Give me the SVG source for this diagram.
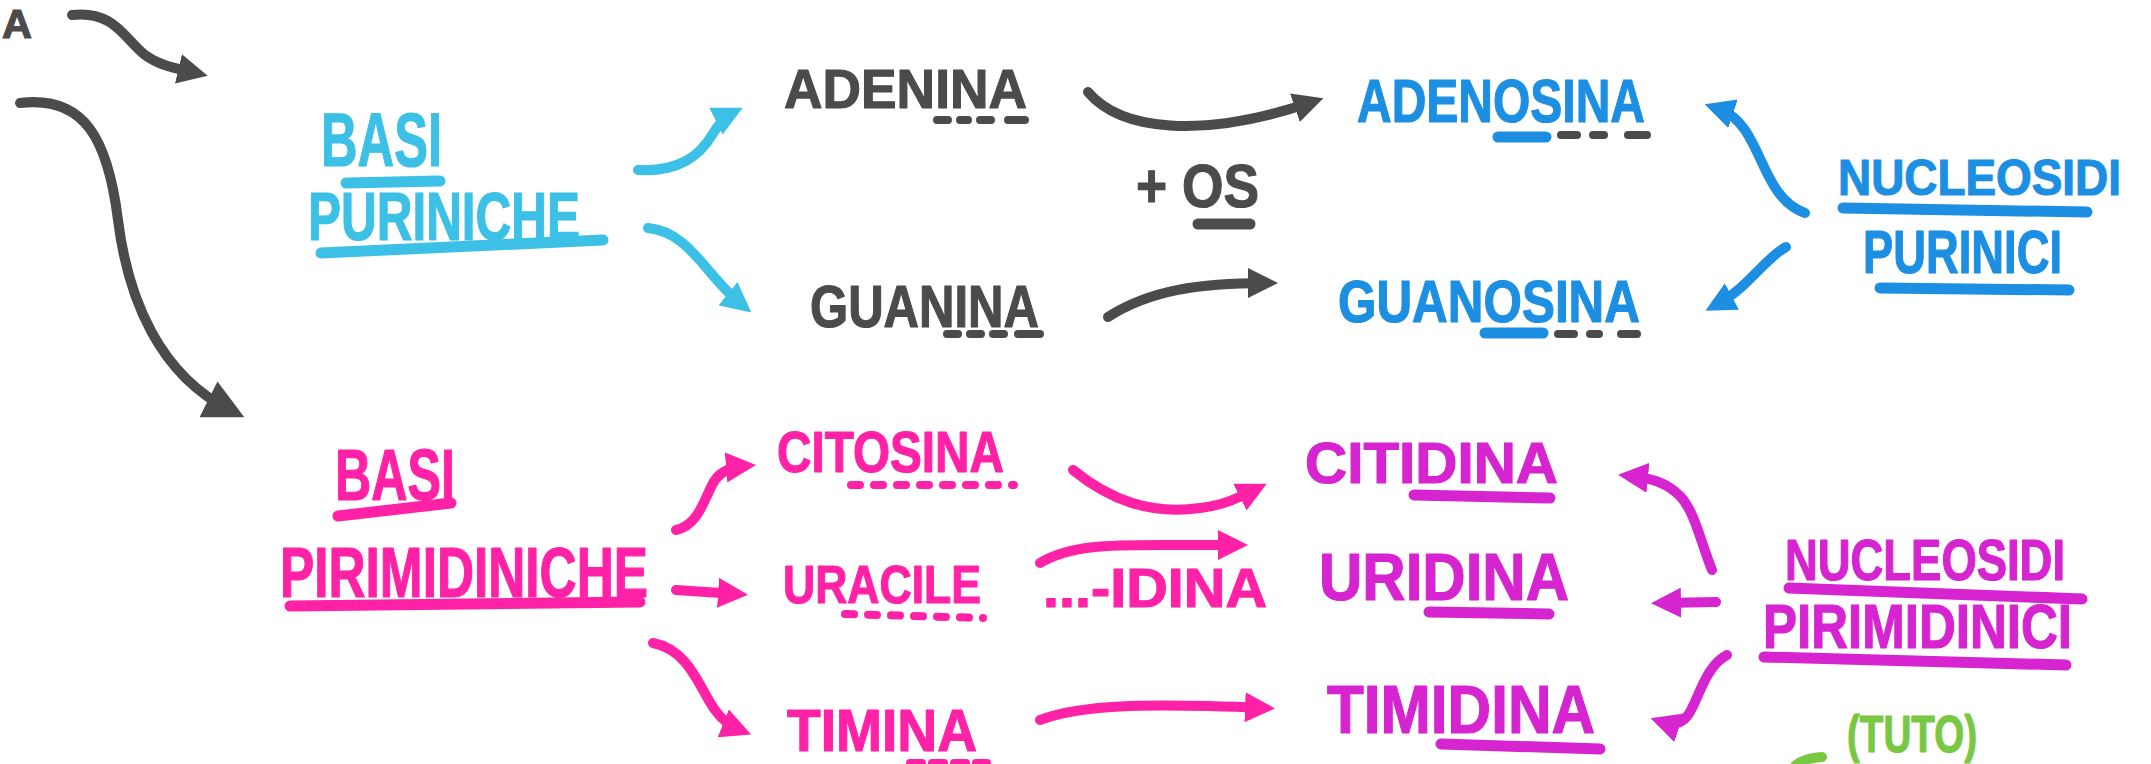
<svg xmlns="http://www.w3.org/2000/svg" width="2151" height="764" viewBox="0 0 2151 764">
  <defs>
    <style>
      .t { font-family: "Liberation Sans", "DejaVu Sans", sans-serif; font-weight: 700; stroke-width: 1.2; stroke-linejoin: round; }
      .gray { fill: #4b4b4b; stroke: #4b4b4b; }
      .cyan { fill: #3cc0e6; stroke: #3cc0e6; }
      .blue { fill: #1d8fe2; stroke: #1d8fe2; }
      .pink { fill: #ff22a6; stroke: #ff22a6; }
      .mag { fill: #d624d0; stroke: #d624d0; }
      .green { fill: #79c843; stroke: #79c843; }
      .ul { fill: none; stroke-linecap: round; stroke-width: 11; }
      .dash { fill: none; stroke-linecap: round; stroke-width: 8; }
      .arr { fill: none; stroke-linecap: round; stroke-linejoin: round; stroke-width: 10; }
    </style>
    <marker id="m-gray" viewBox="0 0 10 10" refX="6" refY="5" markerWidth="3" markerHeight="3" orient="auto" markerUnits="strokeWidth">
      <path d="M0,0 L10,5 L0,10 z" fill="#4b4b4b"/>
    </marker>
    <marker id="m-gray-thin" viewBox="0 0 10 10" refX="6" refY="5" markerWidth="4" markerHeight="4" orient="auto" markerUnits="strokeWidth">
      <path d="M0,0 L10,5 L0,10 z" fill="#4b4b4b"/>
    </marker>
    <marker id="m-cyan" viewBox="0 0 10 10" refX="6" refY="5" markerWidth="3" markerHeight="3" orient="auto" markerUnits="strokeWidth">
      <path d="M0,0 L10,5 L0,10 z" fill="#3cc0e6"/>
    </marker>
    <marker id="m-blue" viewBox="0 0 10 10" refX="6" refY="5" markerWidth="3" markerHeight="3" orient="auto" markerUnits="strokeWidth">
      <path d="M0,0 L10,5 L0,10 z" fill="#1d8fe2"/>
    </marker>
    <marker id="m-pink" viewBox="0 0 10 10" refX="6" refY="5" markerWidth="3" markerHeight="3" orient="auto" markerUnits="strokeWidth">
      <path d="M0,0 L10,5 L0,10 z" fill="#ff22a6"/>
    </marker>
    <marker id="m-mag" viewBox="0 0 10 10" refX="6" refY="5" markerWidth="3" markerHeight="3" orient="auto" markerUnits="strokeWidth">
      <path d="M0,0 L10,5 L0,10 z" fill="#d624d0"/>
    </marker>
  </defs>

  <rect width="2151" height="764" fill="#ffffff"/>

  <!-- connectors -->
  <g id="connectors">
    <!-- grey arrows from the root -->
    <path class="arr" stroke="#4b4b4b" d="M72,15 C115,10 125,40 145,55 C160,66 175,68 196,73" marker-end="url(#m-gray)"/>
    <path class="arr" stroke="#4b4b4b" stroke-width="6" d="M20,103 C85,95 108,140 118,220 C128,300 160,375 230,410" marker-end="url(#m-gray-thin)"/>
    <!-- purine bases -> nucleosides -->
    <path class="arr" stroke="#4b4b4b" d="M1088,92 C1120,130 1200,140 1312,102" marker-end="url(#m-gray)"/>
    <path class="arr" stroke="#4b4b4b" d="M1108,317 C1150,290 1200,283 1266,283" marker-end="url(#m-gray)"/>
    <!-- BASI PURINICHE branches -->
    <path class="arr" stroke="#3cc0e6" d="M638,170 C680,172 700,155 712,135 C720,122 726,116 732,113" marker-end="url(#m-cyan)"/>
    <path class="arr" stroke="#3cc0e6" d="M648,228 C690,232 705,275 742,305" marker-end="url(#m-cyan)"/>
    <!-- NUCLEOSIDI PURINICI -> nucleosides -->
    <path class="arr" stroke="#1d8fe2" d="M1805,213 C1770,200 1765,160 1745,130 C1737,118 1728,112 1716,108" marker-end="url(#m-blue)"/>
    <path class="arr" stroke="#1d8fe2" d="M1786,247 C1765,258 1748,288 1716,305" marker-end="url(#m-blue)"/>
    <!-- BASI PIRIMIDINICHE branches -->
    <path class="arr" stroke="#ff22a6" d="M676,530 C700,525 705,495 715,480 C722,470 732,467 744,466" marker-end="url(#m-pink)"/>
    <path class="arr" stroke="#ff22a6" d="M676,590 L736,594" marker-end="url(#m-pink)"/>
    <path class="arr" stroke="#ff22a6" d="M653,643 C690,650 700,690 715,710 C722,720 730,726 740,730" marker-end="url(#m-pink)"/>
    <!-- pyrimidine bases -> nucleosides -->
    <path class="arr" stroke="#ff22a6" d="M1073,470 C1110,500 1150,515 1200,508 C1225,505 1240,497 1256,489" marker-end="url(#m-pink)"/>
    <path class="arr" stroke="#ff22a6" d="M1040,563 C1070,545 1110,545 1160,545 L1236,545" marker-end="url(#m-pink)"/>
    <path class="arr" stroke="#ff22a6" d="M1040,720 C1080,705 1140,703 1263,708" marker-end="url(#m-pink)"/>
    <!-- NUCLEOSIDI PIRIMIDINICI -> nucleosides -->
    <path class="arr" stroke="#d624d0" d="M1712,570 C1700,540 1695,512 1680,496 C1666,482 1650,478 1630,476" marker-end="url(#m-mag)"/>
    <path class="arr" stroke="#d624d0" d="M1716,602 L1663,603" marker-end="url(#m-mag)"/>
    <path class="arr" stroke="#d624d0" d="M1727,655 C1706,666 1700,695 1690,712 C1683,724 1674,726 1662,722" marker-end="url(#m-mag)"/>
    <!-- green stroke at the bottom -->
    <path class="arr" stroke="#79c843" stroke-width="8" d="M1795,766 C1800,761 1810,758 1822,757"/>
  </g>

  <!-- root (at the edge) -->
  <g id="n-root">
    <text class="t gray" x="2" y="38" font-size="40" textLength="30" lengthAdjust="spacingAndGlyphs">A</text>
  </g>

  <!-- purines -->
  <g id="n-basi-puriniche">
    <text class="t cyan" x="321" y="166" font-size="76" textLength="121" lengthAdjust="spacingAndGlyphs">BASI</text>
    <path class="ul" stroke="#3cc0e6" d="M346,183 L440,181"/>
    <text class="t cyan" x="308" y="240" font-size="68" textLength="272" lengthAdjust="spacingAndGlyphs">PURINICHE</text>
    <path class="ul" stroke="#3cc0e6" d="M321,253 L603,240"/>
  </g>

  <g id="n-adenina">
    <text class="t gray" x="784" y="108" font-size="56" textLength="243" lengthAdjust="spacingAndGlyphs">ADENINA</text>
    <path class="dash" stroke="#4b4b4b" d="M937,120 H948 M960,120 H968 M980,120 H991 M1008,120 H1025"/>
  </g>

  <g id="n-guanina">
    <text class="t gray" x="810" y="327" font-size="60" textLength="229" lengthAdjust="spacingAndGlyphs">GUANINA</text>
    <path class="dash" stroke="#4b4b4b" d="M947,334 H958 M970,334 H981 M993,334 H1004 M1018,334 H1040"/>
  </g>

  <g id="n-os">
    <text class="t gray" x="1136" y="207" font-size="62" textLength="123" lengthAdjust="spacingAndGlyphs">+ OS</text>
    <path class="ul" stroke="#4b4b4b" d="M1198,224 L1250,224"/>
  </g>

  <g id="n-adenosina">
    <text class="t blue" x="1357" y="122" font-size="62" textLength="288" lengthAdjust="spacingAndGlyphs">ADENOSINA</text>
    <path class="ul" stroke="#1d8fe2" d="M1498,137 L1546,137"/>
    <path class="dash" stroke="#4b4b4b" d="M1561,135 H1577 M1593,135 H1604 M1628,135 H1647"/>
  </g>

  <g id="n-guanosina">
    <text class="t blue" x="1338" y="322" font-size="60" textLength="302" lengthAdjust="spacingAndGlyphs">GUANOSINA</text>
    <path class="ul" stroke="#1d8fe2" d="M1485,333 L1543,333"/>
    <path class="dash" stroke="#4b4b4b" d="M1558,334 H1574 M1590,334 H1599 M1621,334 H1637"/>
  </g>

  <g id="n-nucleosidi-purinici">
    <text class="t blue" x="1838" y="195" font-size="50" textLength="283" lengthAdjust="spacingAndGlyphs">NUCLEOSIDI</text>
    <path class="ul" stroke="#1d8fe2" d="M1843,208 L2087,212"/>
    <text class="t blue" x="1863" y="273" font-size="62" textLength="199" lengthAdjust="spacingAndGlyphs">PURINICI</text>
    <path class="ul" stroke="#1d8fe2" d="M1880,288 L2069,290"/>
  </g>

  <!-- pyrimidines -->
  <g id="n-basi-pirimidiniche">
    <text class="t pink" x="335" y="500" font-size="72" textLength="120" lengthAdjust="spacingAndGlyphs">BASI</text>
    <path class="ul" stroke="#ff22a6" d="M338,516 L451,503"/>
    <text class="t pink" x="280" y="597" font-size="70" textLength="368" lengthAdjust="spacingAndGlyphs">PIRIMIDINICHE</text>
    <path class="ul" stroke="#ff22a6" d="M290,606 L640,602"/>
  </g>

  <g id="n-citosina">
    <text class="t pink" x="777" y="472" font-size="58" textLength="227" lengthAdjust="spacingAndGlyphs">CITOSINA</text>
    <path class="dash" stroke="#ff22a6" stroke-width="7" stroke-dasharray="9 14" d="M851,485 H1014"/>
  </g>

  <g id="n-uracile">
    <text class="t pink" x="783" y="603" font-size="54" textLength="198" lengthAdjust="spacingAndGlyphs">URACILE</text>
    <path class="dash" stroke="#ff22a6" stroke-width="7" stroke-dasharray="9 14" d="M845,614 L983,618"/>
  </g>

  <g id="n-timina">
    <text class="t pink" x="787" y="751" font-size="60" textLength="190" lengthAdjust="spacingAndGlyphs">TIMINA</text>
    <path class="dash" stroke="#ff22a6" stroke-width="7" stroke-dasharray="12 10" d="M910,763 H987"/>
  </g>

  <g id="n-idina">
    <text class="t pink" x="1043" y="607" font-size="56" textLength="224" lengthAdjust="spacingAndGlyphs">...-IDINA</text>
  </g>

  <g id="n-citidina">
    <text class="t mag" x="1305" y="483" font-size="58" textLength="253" lengthAdjust="spacingAndGlyphs">CITIDINA</text>
    <path class="ul" stroke="#d624d0" stroke-width="13" d="M1414,495 L1550,498"/>
  </g>

  <g id="n-uridina">
    <text class="t mag" x="1319" y="600" font-size="66" textLength="250" lengthAdjust="spacingAndGlyphs">URIDINA</text>
    <path class="ul" stroke="#d624d0" stroke-width="12" d="M1429,612 L1549,614"/>
  </g>

  <g id="n-timidina">
    <text class="t mag" x="1327" y="733" font-size="68" textLength="268" lengthAdjust="spacingAndGlyphs">TIMIDINA</text>
    <path class="ul" stroke="#d624d0" stroke-width="12" d="M1441,744 L1600,749"/>
  </g>

  <g id="n-nucleosidi-pirimidinici">
    <text class="t mag" x="1785" y="580" font-size="58" textLength="280" lengthAdjust="spacingAndGlyphs">NUCLEOSIDI</text>
    <path class="ul" stroke="#d624d0" stroke-width="12" d="M1789,588 L2082,599"/>
    <text class="t mag" x="1763" y="648" font-size="63" textLength="309" lengthAdjust="spacingAndGlyphs">PIRIMIDINICI</text>
    <path class="ul" stroke="#d624d0" stroke-width="12" d="M1764,657 L2066,665"/>
  </g>

  <g id="n-tutto">
    <text class="t green" x="1847" y="752" font-size="52" textLength="130" lengthAdjust="spacingAndGlyphs">(TUTO)</text>
  </g>
</svg>
